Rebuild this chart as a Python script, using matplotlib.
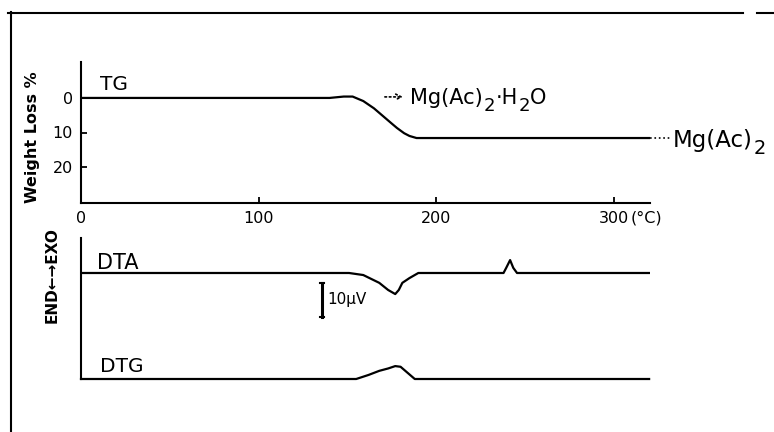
import matplotlib
matplotlib.use("Agg")
import matplotlib.pyplot as plt
from matplotlib.lines import Line2D
from matplotlib.transforms import blended_transform_factory, offset_copy

# ---- data ----
tg_temp = [0, 140, 148, 153, 159, 165, 170, 175, 178, 182, 185, 189, 200, 320]
tg_loss = [0, 0, -0.4, -0.4, 0.9, 3.0, 5.2, 7.4, 8.7, 10.2, 11.0, 11.6, 11.6, 11.6]

dta_temp = [0, 151, 159, 168, 173, 177, 179, 181, 185, 190, 238, 239.5, 241.7, 243.5, 245.6, 320]
dta_sig = [0, 0, -0.6, -2.9, -5.0, -6.2, -5.0, -2.9, -1.5, 0, 0, 1.5, 3.8, 1.5, 0, 0]

dtg_temp = [0, 155, 162, 168, 173, 177, 180, 184, 188, 320]
dtg_sig = [0, 0, 1.2, 2.4, 3.1, 3.8, 3.6, 1.8, 0, 0]

x_ticks = [0, 100, 200, 300]
x_tick_labels = ["0", "100", "200", "300"]
y_ticks = [0, 10, 20]
y_tick_labels = ["0", "10", "20"]

W, H = 774, 432
plt.rcParams['font.family'] = ['DejaVu Sans']
fig = plt.figure(figsize=(W / 100, H / 100), dpi=100)
renderer = fig.canvas.get_renderer()

def fx(px):
    return px / W

def fy(py):
    return 1 - py / H

LW = 1.6
XMAX = 320.5


def formula(ax, x, y, parts, size, sub_size, sub_drop_px):
    """Write a chemical formula from (text, is_subscript) pieces, baseline at data (x, y)."""
    dx = 0.0
    for txt, is_sub in parts:
        dy = -sub_drop_px if is_sub else 0.0
        tr = offset_copy(ax.transData, fig=fig, x=dx, y=dy, units='dots')
        t = ax.text(x, y, txt, fontsize=sub_size if is_sub else size, va='baseline',
                    ha='left', transform=tr, clip_on=False)
        dx += t.get_window_extent(renderer=renderer).width + 0.5


# ---- upper TG axes ----
ax1 = fig.add_axes([fx(81), fy(203), fx(650) - fx(81), fy(62) - fy(203)])
ax1.plot(tg_temp, tg_loss, color='black', lw=LW)
ax1.set_xlim(0, XMAX)
ax1.set_ylim(30.4, -10.4)
for s in ['top', 'right']:
    ax1.spines[s].set_visible(False)
for s in ['left', 'bottom']:
    ax1.spines[s].set_linewidth(1.5)
ax1.set_xticks(x_ticks)
ax1.set_xticklabels(x_tick_labels)
ax1.set_yticks(y_ticks)
ax1.set_yticklabels(y_tick_labels)
ax1.tick_params(direction='in', length=4, width=1.3, labelsize=11.5, pad=6)
ax1.set_ylabel("Weight Loss %", fontsize=11.5, fontweight='bold')
ax1.yaxis.set_label_coords(-0.072, 0.47)
ax1.text(10.7, -3.8, "TG", fontsize=14.5, va='center', ha='left')
trans = blended_transform_factory(ax1.transData, ax1.transAxes)
ax1.text(309.5, -0.106, "(°C)", transform=trans, fontsize=11.5, ha='left', va='center')
ax1.annotate("", xy=(183, -0.3), xytext=(169.6, -0.3),
             arrowprops=dict(arrowstyle='->', linestyle=':', color='black', lw=1.2))
formula(ax1, 185.4, 1.7, [("Mg(Ac)", False), ("2", True), ("·H", False), ("2", True), ("O", False)],
        15, 13, 7)
ax1.plot([XMAX, 332], [11.6, 11.6], color='black', lw=1.2, ls=':', clip_on=False)
formula(ax1, 333.5, 14.2, [("Mg(Ac)", False), ("2", True)], 16.5, 14, 7)

# ---- lower DTA / DTG axes ----
DTG_BASE = -31.2
ax2 = fig.add_axes([fx(81), fy(379), fx(650) - fx(81), fy(238) - fy(379)])
ax2.plot(dta_temp, dta_sig, color='black', lw=LW)
ax2.plot(dtg_temp, [v + DTG_BASE for v in dtg_sig], color='black', lw=LW, clip_on=False)
ax2.set_xlim(0, XMAX)
ax2.set_ylim(DTG_BASE, 10.3)
for s in ['top', 'right', 'bottom']:
    ax2.spines[s].set_visible(False)
ax2.spines['left'].set_linewidth(1.5)
ax2.set_xticks([])
ax2.set_yticks([])
ax2.set_ylabel("END←→EXO", fontsize=11, fontweight='bold')
ax2.yaxis.set_label_coords(-0.037, 0.74)
ax2.text(9, 2.9, "DTA", fontsize=15, va='center', ha='left')
ax2.text(10.7, DTG_BASE + 3.8, "DTG", fontsize=14.5, va='center', ha='left')
# 10 µV scale bar
ax2.plot([135.8, 135.8], [-2.9, -12.9], color='black', lw=2.2)
ax2.plot([134.8, 136.8], [-2.9, -2.9], color='black', lw=1.5)
ax2.plot([134.8, 136.8], [-12.9, -12.9], color='black', lw=1.5)
ax2.text(138.5, -7.9, "10µV", fontsize=11, va='center', ha='left')

# ---- page frame lines ----
fig.add_artist(Line2D([fx(8), fx(743)], [fy(13), fy(13)], color='black', lw=1.5))
fig.add_artist(Line2D([fx(757), fx(774)], [fy(13), fy(13)], color='black', lw=1.5))
fig.add_artist(Line2D([fx(11), fx(11)], [fy(12), fy(432)], color='black', lw=1.5))

fig.savefig("out.png", dpi=100)
